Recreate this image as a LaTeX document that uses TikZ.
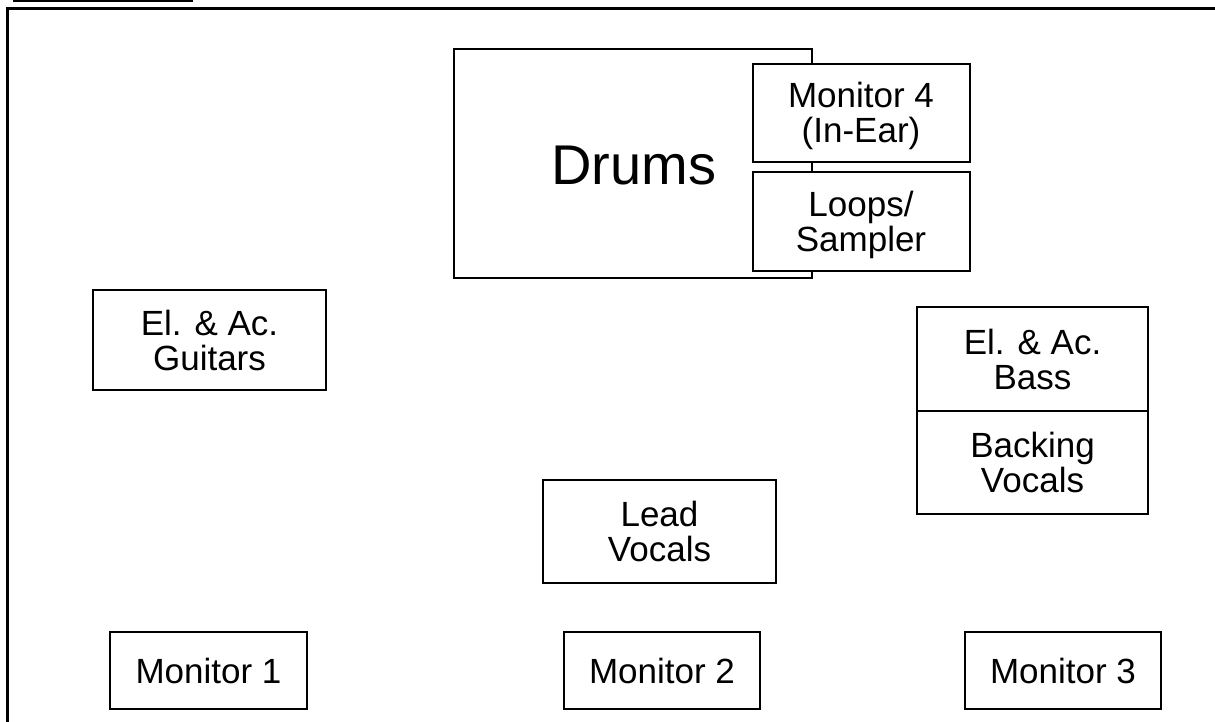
\documentclass[tikz,border=0pt]{standalone}
\usepackage{fontspec}
\setmainfont{Liberation Sans}
\begin{document}
\begin{tikzpicture}[x=1pt,y=-1pt,
  box/.style={draw=black, line width=2pt, fill=white, inner sep=0pt, outer sep=0pt},
  txt/.style={inner sep=0pt, anchor=base, font=\fontsize{35}{35}\selectfont},
  frame/.style={line width=3pt, black}]
\useasboundingbox (0,0) rectangle (1215,722);
% frame
\coordinate (ftr) at (1215,8.5);
\coordinate (ftl) at (7.5,8.5);
\coordinate (fbl) at (7.5,722);
\draw[frame] (ftr) -- (ftl) -- (fbl);
\coordinate (ul1) at (13,1);
\coordinate (ul2) at (193,1);
\draw[line width=2pt] (ul1) -- (ul2);
% drums
\node[box, minimum width=358pt, minimum height=229pt] (drums) at (633,163.5) {};
\node[txt, font=\fontsize{56}{56}\selectfont] (drumstxt) at (634,185) {Drums};
\node[box, minimum width=217pt, minimum height=98pt] (mon4) at (861,113) {};
\node[txt] (mon4a) at ([yshift=5pt]mon4.center) {Monitor 4};
\node[txt] (mon4b) at ([yshift=-30pt]mon4.center) {(In-Ear)};
\node[box, minimum width=217pt, minimum height=98pt] (loops) at (861,221.5) {};
\node[txt] (loopsa) at ([yshift=5pt]loops.center) {Loops/};
\node[txt] (loopsb) at ([yshift=-30pt]loops.center) {Sampler};
% guitars
\node[box, minimum width=233pt, minimum height=100pt] (guit) at (209.5,340) {};
\node[txt] (guita) at ([yshift=5pt]guit.center) {El. \& Ac.};
\node[txt] (guitb) at ([yshift=-30pt]guit.center) {Guitars};
% bass / backing
\node[box, minimum width=231pt, minimum height=104pt] (bass) at (1032.5,359) {};
\node[txt] (bassa) at ([yshift=5pt]bass.center) {El. \& Ac.};
\node[txt] (bassb) at ([yshift=-30pt]bass.center) {Bass};
\node[box, minimum width=231pt, minimum height=103pt] (back) at (1032.5,462.5) {};
\node[txt] (backa) at ([yshift=5pt]back.center) {Backing};
\node[txt] (backb) at ([yshift=-30pt]back.center) {Vocals};
% lead
\node[box, minimum width=233pt, minimum height=103pt] (lead) at (659.5,531.5) {};
\node[txt] (leada) at ([yshift=5pt]lead.center) {Lead};
\node[txt] (leadb) at ([yshift=-30pt]lead.center) {Vocals};
% monitors
\node[box, minimum width=197pt, minimum height=77pt] (m1) at (208.5,670.5) {};
\node[txt] (m1txt) at ([yshift=-12.5pt]m1.center) {Monitor 1};
\node[box, minimum width=196pt, minimum height=77pt] (m2) at (662,670.5) {};
\node[txt] (m2txt) at ([yshift=-12.5pt]m2.center) {Monitor 2};
\node[box, minimum width=196pt, minimum height=77pt] (m3) at (1063,670.5) {};
\node[txt] (m3txt) at ([yshift=-12.5pt]m3.center) {Monitor 3};
\end{tikzpicture}
\end{document}
